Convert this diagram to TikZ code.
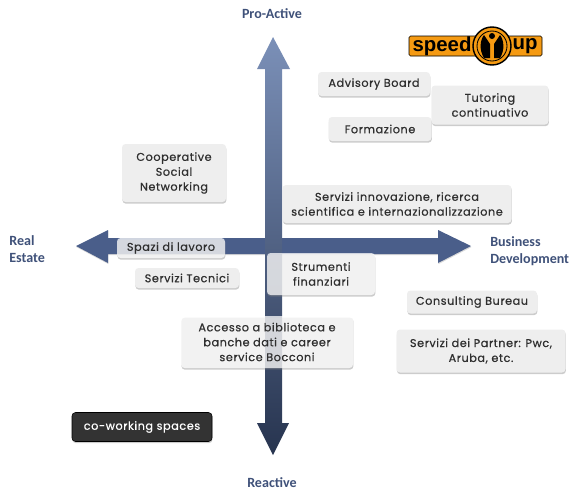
\documentclass[tikz,border=0pt]{standalone}
\usepackage{fontspec}
\setmainfont{Poppins}[LetterSpace=5,FakeBold=0.6]
\newfontfamily\axisfont{Carlito}
\newfontfamily\logofont{Liberation Sans}
\usepackage{tikz}
\usetikzlibrary{shadows}

\definecolor{axisblue}{HTML}{3F5179}
\definecolor{armblue}{HTML}{4A5E8A}
\definecolor{armtop}{HTML}{7B90B8}
\definecolor{armmid}{HTML}{4F618B}
\definecolor{armbottom}{HTML}{27344F}
\definecolor{tilegray}{HTML}{EEEEEE}
\definecolor{tiletext}{HTML}{2F2F2F}
\definecolor{logoorange}{HTML}{F59A12}

\tikzset{
  tile/.style={rectangle,rounded corners=2.5pt,fill=tilegray,text=tiletext,align=center,
    font=\fontsize{8}{10.6}\selectfont,inner sep=0pt,
    drop shadow={shadow xshift=0.3pt,shadow yshift=-1.2pt,opacity=0.4}},
  overtile/.style={tile,fill=white,fill opacity=0.74,text opacity=1},
  darktile/.style={tile,fill=black!80,draw=black,text=white},
  sized/.style 2 args={minimum width=#1*0.025cm,minimum height=#2*0.025cm},
  axislabel/.style={text=axisblue,align=center,inner sep=0pt,font=\axisfont\bfseries\fontsize{10}{12}\selectfont},
  logotext/.style={text=black,inner sep=0pt,font=\logofont\bfseries\fontsize{14.5}{14.5}\selectfont}
}

\begin{document}
\begin{tikzpicture}[x=0.025cm,y=-0.025cm]
  \useasboundingbox (0,0) rectangle (580,494);
  % Horizontal axis
  \fill[armblue,drop shadow={shadow xshift=0.3pt,shadow yshift=-0.8pt,opacity=0.3}]
    (76,246) -- (108,230) -- (108,238) -- (438,238) -- (438,230) -- (471,246)
    -- (438,263) -- (438,254) -- (108,254) -- (108,263) -- cycle;
  % Vertical axis
  \shade[top color=armtop,middle color=armmid,bottom color=armbottom]
    (273,37) -- (290,69) -- (282,69) -- (282,423) -- (289,423) -- (273,455)
    -- (257,423) -- (265,423) -- (265,69) -- (257,69) -- cycle;
  % Axis labels
  \node[axislabel] (proactive) at (272,14) {Pro-Active};
  \node[axislabel] (reactive) at (272,483) {Reactive};
  \node[axislabel,align=left,anchor=west] (realestate) at (9,249) {Real\\Estate};
  \node[axislabel,align=left,anchor=west] (business) at (490,251) {Business\\Development};
  % Upper right tiles
  \node[tile,sized={112}{24}] (advisory) at (374,84) {Advisory Board};
  \node[tile,sized={117}{39}] (tutoring) at (490,105) {Tutoring\\continuativo};
  \node[tile,sized={103}{24}] (formazione) at (380,129) {Formazione};
  \node[tile,sized={104}{58}] (cooperative) at (174,173) {Cooperative\\Social\\Networking};
  \node[tile,sized={229}{38}] (innovazione) at (397,204) {Servizi innovazione, ricerca\\scientifica e internazionalizzazione};
  % Tiles on the axes
  \node[overtile,sized={108}{20}] (spazi) at (171,248) {Spazi di lavoro};
  \node[tile,sized={104}{20}] (tecnici) at (187,278) {Servizi Tecnici};
  \node[overtile,sized={108}{42}] (strumenti) at (321,274) {Strumenti\\finanziari};
  \node[overtile,sized={172}{52}] (accesso) at (267,342) {Accesso a biblioteca e\\banche dati e career\\service Bocconi};
  % Lower right tiles
  \node[tile,sized={130}{23}] (consulting) at (472,302) {Consulting Bureau};
  \node[tile,sized={169}{43}] (partner) at (481,351) {Servizi dei Partner: Pwc,\\Aruba, etc.};
  \node[darktile,sized={140}{29}] (coworking) at (142,427) {co-working spaces};
  % Logo
  \draw[black,fill=logoorange,rounded corners=1pt] (409,36) rectangle (542,56);
  \node[logotext] (speed) at (442,46) {speed};
  \node[logotext] (up) at (525,46) {up};
  \draw[black,line width=1pt,fill=logoorange] (492,46) circle (19);
  \draw[black,line width=0.6pt] (492,46) circle (15);
  \fill[black] (484,58) .. controls (479,50) and (480,40) .. (484,35) -- (490,44) -- (490,58) -- cycle;
  \fill[black] (500,58) .. controls (505,50) and (504,40) .. (500,35) -- (494,44) -- (494,58) -- cycle;
  \fill[black] (492,36) circle (3);
\end{tikzpicture}
\end{document}
